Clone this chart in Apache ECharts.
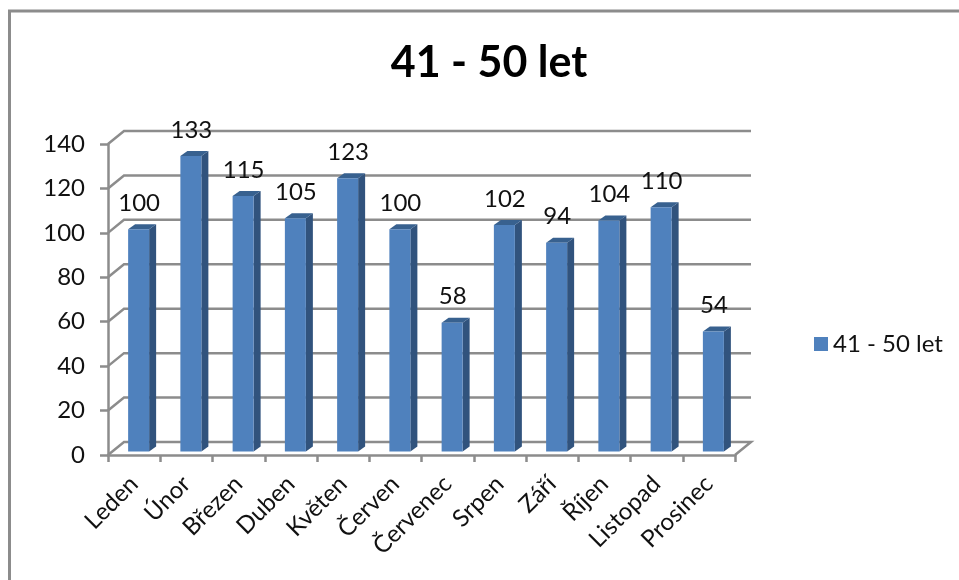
<!DOCTYPE html>
<html>
<head>
<meta charset="utf-8">
<style>html,body{margin:0;padding:0;background:#fff}#c{width:959px;height:580px}</style>
<script src="https://cdn.jsdelivr.net/npm/echarts@6/dist/echarts.min.js"></script>
</head>
<body>
<div id="c"></div>
<script>
const seriesName = '41 - 50 let';
const categories = ['Leden','Únor','Březen','Duben','Květen','Červen','Červenec','Srpen','Září','Říjen','Listopad','Prosinec'];
const values = [100,133,115,105,123,100,58,102,94,104,110,54];
const yTicks = [0,20,40,60,80,100,120,140];

const FONT = 'Lato, sans-serif';
const GRID = '#8c8c8c';
const chart = echarts.init(document.getElementById('c'));

function wallItem(params, api) {
  const v = api.value(0);
  const p = api.coord([0, v]);
  const x0 = params.coordSys.x, x1 = x0 + params.coordSys.width;
  const dx = 16, dy = -13;
  const pts = [[x0, p[1]], [x0 + dx, p[1] + dy], [x1 + dx, p[1] + dy]];
  if (v === 0) pts.push([x1, p[1]]);
  return { type: 'polyline', shape: { points: pts }, style: { stroke: GRID, lineWidth: 2.5, fill: null }, silent: true };
}

function barItem(params, api) {
  const i = api.value(0), v = api.value(1);
  const top = api.coord([i, v]), base = api.coord([i, 0]);
  const off = 4.5, lift = 3.5, w = 21, ddx = 7, ddy = -5;
  const l = top[0] + off - w / 2, r = l + w;
  const t = top[1] - lift, b = base[1] - lift;
  return { type: 'group', children: [
    { type: 'polygon', shape: { points: [[r, t], [r + ddx, t + ddy], [r + ddx, b + ddy], [r, b]] }, style: { fill: '#31537d' } },
    { type: 'polygon', shape: { points: [[l, t], [l + ddx, t + ddy], [r + ddx, t + ddy], [r, t]] }, style: { fill: '#38618f' } },
    { type: 'rect', shape: { x: l, y: t, width: w, height: b - t }, style: { fill: '#4f81bd' } },
    { type: 'text', x: top[0] + off + 0.5, y: t - 26, style: { text: String(v), fill: '#111', font: '24px ' + FONT, textAlign: 'center', textVerticalAlign: 'middle' } }
  ] };
}

chart.setOption({
  animation: false,
  backgroundColor: '#fff',
  title: { text: seriesName, left: 484, top: 37, textAlign: 'center',
    textStyle: { fontFamily: FONT, fontWeight: 'bold', fontSize: 43, color: '#000' } },
  legend: { data: [{ name: seriesName, icon: 'rect' }], left: 809, top: 327, itemWidth: 14, itemHeight: 14, itemGap: 8,
    textStyle: { fontFamily: FONT, fontSize: 24, color: '#111' } },
  grid: { left: 108, right: 224, top: 144, bottom: 125 },
  xAxis: { type: 'category', data: categories,
    axisLine: { lineStyle: { color: GRID, width: 2.5 } },
    axisTick: { show: true, alignWithLabel: false, interval: 0, length: 7, lineStyle: { color: GRID, width: 2.5 } },
    axisLabel: { rotate: 45, margin: 25, interval: 0, fontFamily: FONT, fontSize: 24, color: '#111' } },
  yAxis: { type: 'value', min: 0, max: 140, interval: 20,
    axisLine: { show: true, lineStyle: { color: GRID, width: 2.5 } },
    axisTick: { show: true, length: 8, lineStyle: { color: GRID, width: 2.5 } },
    splitLine: { show: false },
    axisLabel: { margin: 23, fontFamily: FONT, fontSize: 24, color: '#111', padding: [3, 0, 0, 0] } },
  graphic: [{ type: 'polyline', z: 0, silent: true,
    shape: { points: [[9.5, 580], [9.5, 11], [959, 11]] }, style: { stroke: '#8c8c8c', lineWidth: 3, fill: null } }],
  series: [
    { name: 'walls', type: 'custom', z: 1, silent: true, renderItem: wallItem,
      encode: { y: 0 }, data: yTicks.map(t => [t]), tooltip: { show: false } },
    { name: seriesName, type: 'custom', z: 3, renderItem: barItem, itemStyle: { color: '#4f81bd' },
      encode: { x: 0, y: 1 }, data: values.map((v, i) => [i, v]) }
  ]
});
</script>
</body>
</html>
